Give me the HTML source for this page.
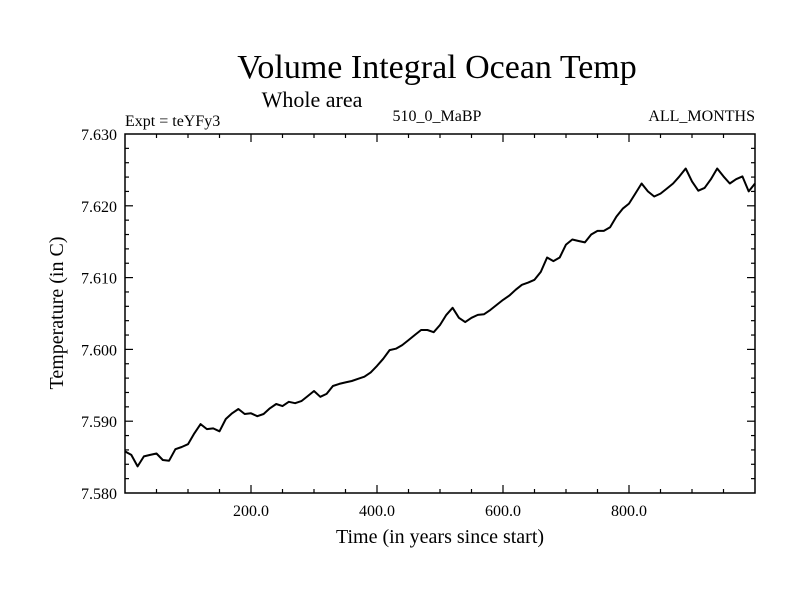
<!DOCTYPE html>
<html><head><meta charset="utf-8"><style>
body{margin:0;background:#fff;}
svg text{font-family:"Liberation Serif",serif;fill:#000;}
</style></head><body>
<svg width="800" height="600" xmlns="http://www.w3.org/2000/svg">
<rect width="800" height="600" fill="#fff"/>
<text x="437" y="78" font-size="34" text-anchor="middle">Volume Integral Ocean Temp</text>
<text x="312" y="107" font-size="22" text-anchor="middle">Whole area</text>
<text x="125" y="126" font-size="16">Expt = teYFy3</text>
<text x="437" y="121" font-size="16" text-anchor="middle">510_0_MaBP</text>
<text x="755" y="121" font-size="16" text-anchor="end">ALL_MONTHS</text>
<text x="440" y="543" font-size="20" text-anchor="middle">Time (in years since start)</text>
<text transform="translate(63,313) rotate(-90)" font-size="20" text-anchor="middle">Temperature (in C)</text>
<g id="axes"></g>
<path id="series" fill="none" stroke="#000" stroke-width="2" stroke-linejoin="round"/>
</svg>
<script>
const years=[0,10,20,30,40,50,60,70,80,90,100,110,120,130,140,150,160,170,180,190,200,210,220,230,240,250,260,270,280,290,300,310,320,330,340,350,360,370,380,390,400,410,420,430,440,450,460,470,480,490,500,510,520,530,540,550,560,570,580,590,600,610,620,630,640,650,660,670,680,690,700,710,720,730,740,750,760,770,780,790,800,810,820,830,840,850,860,870,880,890,900,910,920,930,940,950,960,970,980,990,1000];
const temps=[7.5858,7.5853,7.5837,7.5851,7.5853,7.5855,7.5846,7.5845,7.5861,7.5864,7.5868,7.5883,7.5896,7.5889,7.5890,7.5886,7.5903,7.5911,7.5917,7.5910,7.5911,7.5907,7.5910,7.5918,7.5924,7.5921,7.5927,7.5925,7.5928,7.5935,7.5942,7.5934,7.5938,7.5949,7.5952,7.5954,7.5956,7.5959,7.5962,7.5968,7.5977,7.5987,7.5999,7.6001,7.6006,7.6013,7.6020,7.6027,7.6027,7.6024,7.6034,7.6048,7.6058,7.6044,7.6038,7.6044,7.6048,7.6049,7.6055,7.6062,7.6069,7.6075,7.6083,7.6090,7.6093,7.6097,7.6108,7.6128,7.6123,7.6128,7.6146,7.6153,7.6151,7.6149,7.6160,7.6165,7.6165,7.6170,7.6185,7.6196,7.6203,7.6217,7.6231,7.6220,7.6213,7.6217,7.6224,7.6231,7.6241,7.6252,7.6234,7.6221,7.6225,7.6237,7.6252,7.6241,7.6231,7.6237,7.6241,7.6220,7.6231];
const xTickLabels=["200.0","400.0","600.0","800.0"];
const xTickValues=[200,400,600,800];
const yTickLabels=["7.580","7.590","7.600","7.610","7.620","7.630"];
const yTickValues=[7.58,7.59,7.60,7.61,7.62,7.63];

const L=125,R=755,T=134,B=493,X0=0,X1=1000,Y0=7.58,Y1=7.63;
const xs=v=>L+(v-X0)/(X1-X0)*(R-L);
const ys=v=>B-(v-Y0)/(Y1-Y0)*(B-T);
const NS="http://www.w3.org/2000/svg";
const g=document.getElementById('axes');
function line(x1,y1,x2,y2,name){const l=document.createElementNS(NS,'line');
l.setAttribute('x1',x1);l.setAttribute('y1',y1);l.setAttribute('x2',x2);l.setAttribute('y2',y2);
l.setAttribute('stroke','#000');l.setAttribute('stroke-width','1.2');


g.appendChild(l);}
function text(x,y,s,anchor,name){const t=document.createElementNS(NS,'text');
t.setAttribute('x',x);t.setAttribute('y',y);t.setAttribute('font-size','16');t.setAttribute('text-anchor',anchor);t.textContent=s;


g.appendChild(t);}
const frame=document.createElementNS(NS,'rect');
frame.setAttribute('x',L);frame.setAttribute('y',T);frame.setAttribute('width',R-L);frame.setAttribute('height',B-T);
frame.setAttribute('fill','none');frame.setAttribute('stroke','#000');frame.setAttribute('stroke-width','1.5');


g.appendChild(frame);
for(let v=50;v<X1;v+=50){const x=xs(v);const len=(v%200===0)?8:4;
line(x,B,x,B-len,'x-tick');line(x,T,x,T+len,'x-tick-top');}
for(let i=1;i<25;i++){const v=Y0+i*0.002;const y=ys(v);const len=(i%5===0)?8:4;
line(L,y,L+len,y,'y-tick');line(R,y,R-len,y,'y-tick-right');}
xTickValues.forEach((v,i)=>text(xs(v),516,xTickLabels[i],'middle','x-tick-label'));
yTickValues.forEach((v,i)=>text(117,ys(v)+6,yTickLabels[i],'end','y-tick-label'));
document.getElementById('series').setAttribute('d',years.map((v,i)=>(i?'L':'M')+xs(v).toFixed(1)+' '+ys(temps[i]).toFixed(1)).join(' '));
</script>
</body></html>
